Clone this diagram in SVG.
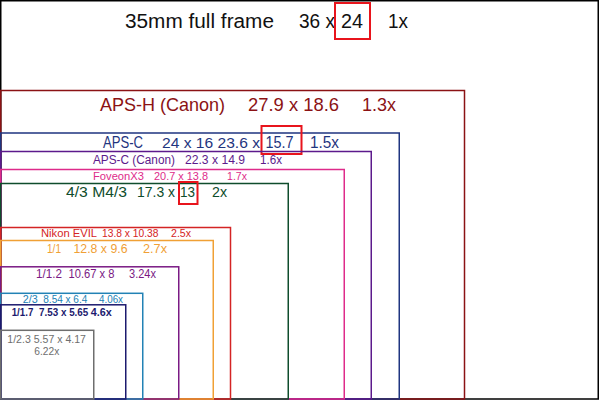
<svg xmlns="http://www.w3.org/2000/svg" width="600" height="400" viewBox="0 0 600 400">
<style>
text{font-family:"Liberation Sans",Arial,sans-serif}
.s{fill:none;stroke-width:1.5}
.hl{fill:none;stroke:#e8141c;stroke-width:2}
</style>
<rect width="600" height="400" fill="#fff"/>
<g id="frame35">
<rect x="0.75" y="0.75" width="597.5" height="398.25" fill="none" stroke="#000" stroke-width="1.5"/>
<text fill="#111" font-size="20" y="28"><tspan x="125" textLength="149" lengthAdjust="spacingAndGlyphs">35mm full frame</tspan><tspan x="299" textLength="36" lengthAdjust="spacingAndGlyphs">36 x</tspan><tspan x="341" textLength="22" lengthAdjust="spacingAndGlyphs">24</tspan><tspan x="388" textLength="20" lengthAdjust="spacingAndGlyphs">1x</tspan></text>
<rect class="hl" x="335" y="3" width="35" height="36"/>
</g>
<g id="apsh">
<rect class="s" stroke="#8b1214" x="0.75" y="90.5" width="463.75" height="308.5"/>
<text fill="#8b1214" font-size="19" y="110.5"><tspan x="100" textLength="125" lengthAdjust="spacingAndGlyphs">APS-H (Canon)</tspan><tspan x="248" textLength="91" lengthAdjust="spacingAndGlyphs">27.9 x 18.6</tspan><tspan x="362" textLength="34" lengthAdjust="spacingAndGlyphs">1.3x</tspan></text>
</g>
<g id="apsc">
<rect class="s" stroke="#1f3580" x="0.75" y="133" width="398.5" height="266"/>
<text fill="#1f3580" font-size="16.5" y="147.5"><tspan x="103" textLength="40" lengthAdjust="spacingAndGlyphs">APS-C</tspan><tspan x="162" font-size="15.3" textLength="98" lengthAdjust="spacingAndGlyphs">24 x 16 23.6 x</tspan><tspan x="265.5" textLength="28" lengthAdjust="spacingAndGlyphs">15.7</tspan><tspan x="310" textLength="29" lengthAdjust="spacingAndGlyphs">1.5x</tspan></text>
<rect class="hl" x="261.5" y="126" width="40" height="28"/>
</g>
<g id="apsc-canon">
<rect class="s" stroke="#5c1a8c" x="0.75" y="151.5" width="370.5" height="247.5"/>
<text fill="#5c1a8c" font-size="12" y="163.5"><tspan x="93" textLength="82" lengthAdjust="spacingAndGlyphs">APS-C (Canon)</tspan><tspan x="185" textLength="60" lengthAdjust="spacingAndGlyphs">22.3 x 14.9</tspan><tspan x="260" textLength="22" lengthAdjust="spacingAndGlyphs">1.6x</tspan></text>
</g>
<g id="foveon">
<rect class="s" stroke="#de2b8a" x="0.75" y="169.5" width="343.5" height="229.5"/>
<text fill="#de2b8a" font-size="11" y="180"><tspan x="93" textLength="51" lengthAdjust="spacingAndGlyphs">FoveonX3</tspan><tspan x="154" textLength="54" lengthAdjust="spacingAndGlyphs">20.7 x 13.8</tspan><tspan x="227" textLength="20" lengthAdjust="spacingAndGlyphs">1.7x</tspan></text>
</g>
<g id="four-thirds">
<rect class="s" stroke="#0f4d2c" x="0.75" y="183.5" width="287.5" height="215.5"/>
<text fill="#0f4d2c" font-size="14" y="196.7"><tspan x="66" textLength="61" lengthAdjust="spacingAndGlyphs">4/3 M4/3</tspan><tspan x="137" textLength="38" lengthAdjust="spacingAndGlyphs">17.3 x</tspan><tspan x="180" textLength="15" lengthAdjust="spacingAndGlyphs">13</tspan><tspan x="212" textLength="15" lengthAdjust="spacingAndGlyphs">2x</tspan></text>
<rect class="hl" x="179" y="182" width="18.5" height="22"/>
</g>
<g id="nikon-evil">
<rect class="s" stroke="#d42424" x="0.75" y="227.5" width="229.75" height="171.5"/>
<text fill="#d42424" font-size="11" y="237.3"><tspan x="41" textLength="56" lengthAdjust="spacingAndGlyphs">Nikon EVIL</tspan><tspan x="102" textLength="56.5" lengthAdjust="spacingAndGlyphs">13.8 x 10.38</tspan><tspan x="171" textLength="20" lengthAdjust="spacingAndGlyphs">2.5x</tspan></text>
</g>
<g id="one-inch">
<rect class="s" stroke="#f0a035" x="0.75" y="240.5" width="212.5" height="158.5"/>
<text fill="#f0a035" font-size="13.5" y="253.3"><tspan x="47" textLength="14" lengthAdjust="spacingAndGlyphs">1/1</tspan><tspan x="73.5" textLength="54" lengthAdjust="spacingAndGlyphs">12.8 x 9.6</tspan><tspan x="143" textLength="24" lengthAdjust="spacingAndGlyphs">2.7x</tspan></text>
</g>
<g id="one-1-2">
<rect class="s" stroke="#7a1a84" x="0.75" y="266.8" width="178" height="132.2"/>
<text fill="#7a1a84" font-size="12" y="278.3"><tspan x="36" textLength="26" lengthAdjust="spacingAndGlyphs">1/1.2</tspan><tspan x="68.5" textLength="46" lengthAdjust="spacingAndGlyphs">10.67 x 8</tspan><tspan x="129" textLength="27" lengthAdjust="spacingAndGlyphs">3.24x</tspan></text>
</g>
<g id="two-thirds">
<rect class="s" stroke="#2282b5" x="0.75" y="293.3" width="142" height="105.7"/>
<text fill="#2282b5" font-size="10.5" y="302.7"><tspan x="22.7" textLength="15" lengthAdjust="spacingAndGlyphs">2/3</tspan><tspan x="43.3" textLength="44" lengthAdjust="spacingAndGlyphs">8.54 x 6.4</tspan><tspan x="99" textLength="24" lengthAdjust="spacingAndGlyphs">4.06x</tspan></text>
</g>
<g id="one-1-7">
<rect class="s" stroke="#1c1a6e" x="0.75" y="304.8" width="125" height="94.2"/>
<text fill="#1c1a6e" font-size="10.5" font-weight="bold" y="316"><tspan x="11.7" textLength="21.6" lengthAdjust="spacingAndGlyphs">1/1.7</tspan><tspan x="39" textLength="49.3" lengthAdjust="spacingAndGlyphs">7.53 x 5.65</tspan><tspan x="90.7" textLength="21" lengthAdjust="spacingAndGlyphs">4.6x</tspan></text>
</g>
<g id="one-2-3">
<rect class="s" stroke="#6e6e6e" x="0.75" y="330.3" width="93" height="68.7"/>
<text fill="#6e6e6e" font-size="11"><tspan x="7.3" y="343.3" textLength="78.7" lengthAdjust="spacingAndGlyphs">1/2.3  5.57 x 4.17</tspan><tspan x="34.3" y="355" textLength="25" lengthAdjust="spacingAndGlyphs">6.22x</tspan></text>
</g>
</svg>
